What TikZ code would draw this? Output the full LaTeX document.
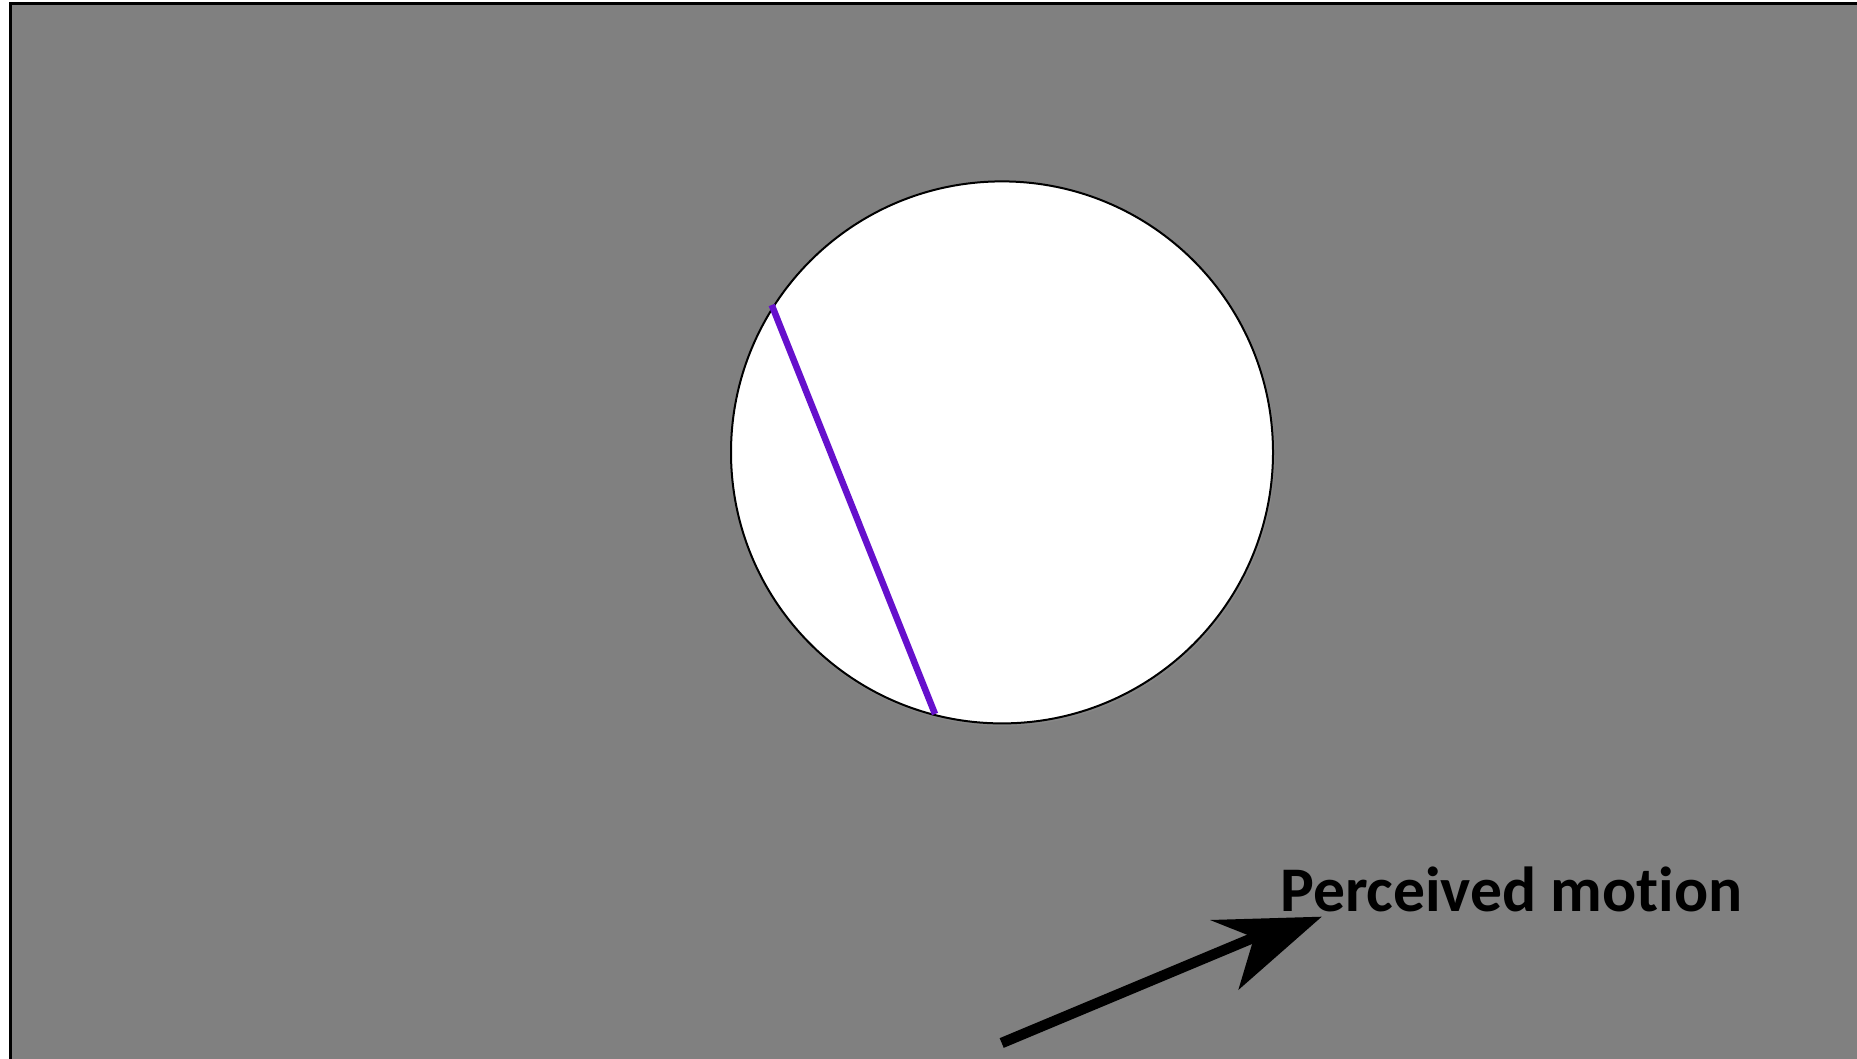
\documentclass[tikz,border=0pt]{standalone}
\usepackage{fontspec}
\setmainfont[Ligatures=NoCommon]{Carlito}
\begin{document}
\begin{tikzpicture}[x=1pt,y=-1pt,
  frame/.style={draw=black,line width=3pt,fill=bggray},
  hole/.style={draw=black,line width=2pt,fill=white},
  bar/.style={draw=barpurple,line width=6.5pt},
  label/.style={font=\fontsize{63.6}{64}\selectfont\bfseries,inner sep=0pt,anchor=base west}]
\definecolor{bggray}{RGB}{128,128,128}
\definecolor{barpurple}{RGB}{102,16,204}
\useasboundingbox (0,0) rectangle (1857,1059);
\clip (0,0) rectangle (1857,1059);
\draw[frame] (10.5,4) rectangle (1880,1080);
\fill[black!40,opacity=0.3] (1003,454) circle (272);
\node[hole,circle,minimum size=542pt,inner sep=0pt] (c) at (1002,452.4) {};
\coordinate (b1) at (771.7,305);
\coordinate (b2) at (935,714);
\draw[bar] (b1) -- (b2);
\coordinate (tail) at (1001.7,1043);
\coordinate (notch) at (1254,937.5);
\coordinate (tip) at (1321.7,916.7);
\coordinate (w1) at (1210,920);
\coordinate (w2) at (1238.3,990);
\draw[line width=10.5pt] (tail) -- (notch);
\fill (tip) -- (w1) -- (notch) -- (w2) -- cycle;
\node[label] (t) at (1280,911) {Perceived motion};
\end{tikzpicture}
\end{document}
